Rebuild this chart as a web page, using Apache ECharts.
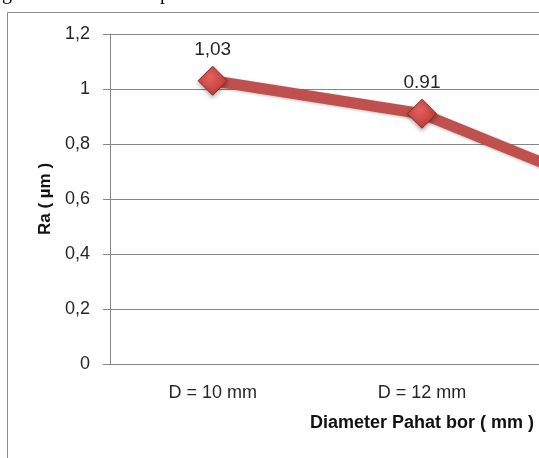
<!DOCTYPE html>
<html>
<head>
<meta charset="utf-8">
<script src="https://cdn.jsdelivr.net/npm/echarts@6/dist/echarts.min.js"></script>
<style>
html,body{margin:0;padding:0;background:#fff;}
#chart{width:539px;height:458px;}
</style>
</head>
<body>
<div id="chart"></div>
<script>
const categories = ['D = 10 mm', 'D = 12 mm', 'D = 14 mm'];
const raValues = [1.03, 0.91, 0.6];
const dataLabels = ['1,03', '0.91', '0,6'];
const yMin = 0, yMax = 1.2, yStep = 0.2;
const xTitle = 'Diameter Pahat bor ( mm )';
const yTitle = 'Ra ( µm )';

const chart = echarts.init(document.getElementById('chart'));
const font = '"Liberation Sans", Arial, sans-serif';
const gray = '#868686';

chart.setOption({
  animation: false,
  backgroundColor: '#fff',
  graphic: [
    { type: 'rect', silent: true, z: -1,
      shape: { x: 7.5, y: 12.5, width: 700, height: 600 },
      style: { fill: 'none', stroke: '#8c8c8c', lineWidth: 1 } },
    { type: 'text', x: 2, y: -16,
      style: { text: 'g', font: '20px "Liberation Serif", serif', fill: '#000' } },
    { type: 'text', x: 160, y: -16,
      style: { text: 'p', font: '20px "Liberation Serif", serif', fill: '#000' } }
  ],
  grid: { left: 108, top: 34, width: 628, height: 330, containLabel: false, outerBoundsMode: 'none' },
  xAxis: {
    type: 'category',
    data: categories,
    boundaryGap: true,
    axisLine: { lineStyle: { color: gray, width: 1 } },
    axisTick: { show: false },
    axisLabel: { margin: 20, fontSize: 18, fontFamily: font, color: '#262626' },
    name: xTitle,
    nameLocation: 'middle',
    nameGap: 50,
    nameTextStyle: { fontSize: 18, fontWeight: 'bold', fontFamily: font, color: '#111' }
  },
  yAxis: {
    type: 'value',
    min: yMin, max: yMax, interval: yStep,
    offset: -2,
    axisLine: { show: true, lineStyle: { color: gray, width: 1 } },
    axisTick: { show: true, inside: false, length: 7, lineStyle: { color: gray } },
    splitLine: { show: true, lineStyle: { color: gray, width: 1 } },
    axisLabel: {
      margin: 20, fontSize: 18, fontFamily: font, color: '#262626',
      formatter: v => String(Math.round(v * 10) / 10).replace('.', ',')
    },
    name: yTitle,
    nameLocation: 'middle',
    nameGap: 54,
    nameRotate: 90,
    nameTextStyle: { fontSize: 17, fontWeight: 'bold', fontFamily: font, color: '#111' }
  },
  series: [{
    type: 'line',
    data: raValues,
    symbol: 'diamond',
    symbolSize: 29,
    lineStyle: { color: '#C0504D', width: 11, shadowColor: 'rgba(0,0,0,0.25)', shadowBlur: 3, shadowOffsetY: 1 },
    itemStyle: {
      color: {
        type: 'radial', x: 0.4, y: 0.35, r: 0.75,
        colorStops: [ { offset: 0, color: '#E8625E' }, { offset: 1, color: '#B83531' } ]
      },
      borderColor: '#8E2A27', borderWidth: 1,
      shadowColor: 'rgba(0,0,0,0.35)', shadowBlur: 4, shadowOffsetY: 2
    },
    label: {
      show: true, position: 'top', distance: 6,
      fontSize: 19, fontFamily: font, color: '#262626',
      formatter: p => dataLabels[p.dataIndex]
    },
    z: 3
  }]
});
</script>
</body>
</html>
